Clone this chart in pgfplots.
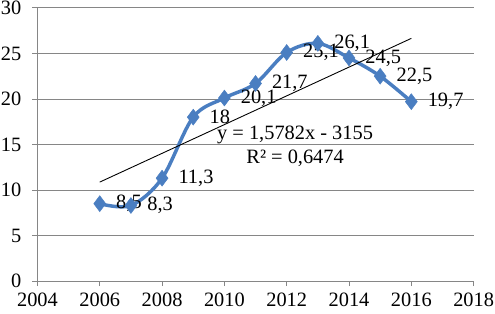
\documentclass[border=0pt]{standalone}
\usepackage{fontspec}
\setmainfont{Liberation Serif}
\usepackage{pgfplots}
\pgfplotsset{compat=1.18}
\definecolor{serblue}{RGB}{74,126,193}
\definecolor{gridgray}{RGB}{134,134,134}
\begin{document}
\begin{tikzpicture}
\begin{axis}[
  scale only axis,
  width=439pt, height=275pt,
  xmin=2004, xmax=2018, ymin=0, ymax=30,
  xtick={2004,2006,...,2018},
  ytick={0,5,...,30},
  axis x line*=bottom, axis y line*=left,
  axis line style={gridgray, line width=0.8pt, -},
  ymajorgrids,
  major grid style={gridgray, line width=0.8pt},
  tick style={gridgray, line width=0.8pt},
  tick align=outside,
  major tick length=5pt,
  /pgf/number format/assume math mode=true,
  /pgf/number format/1000 sep={},
  tick label style={font=\fontsize{20.5}{24}\selectfont, black, inner sep=1pt},
  xticklabel style={yshift=-6pt, text depth=6pt},
  yticklabel style={xshift=-10pt},
  clip=false,
]
\addplot[serblue, line width=3.5pt, smooth, tension=0.55,
  mark=diamond*, mark size=8pt, mark options={fill=serblue, draw=serblue, line width=0.5pt},
  nodes near coords, point meta=explicit symbolic,
  every node near coord/.append style={anchor=west, xshift=13pt, black, font=\fontsize{20.5}{24}\selectfont}]
coordinates {
(2006,8.5) [8,5]
(2007,8.3) [8,3]
(2008,11.3) [11,3]
(2009,18) [18]
(2010,20.1) [20,1]
(2011,21.7) [21,7]
(2012,25.1) [25,1]
(2013,26.1) [26,1]
(2014,24.5) [24,5]
(2015,22.5) [22,5]
(2016,19.7) [19,7]
};
\addplot[black, line width=0.9pt] coordinates {(2006,10.87) (2016,26.65)};
\node[align=center, font=\fontsize{20.5}{25}\selectfont, inner sep=0pt] at (axis cs:2012.27,14.8) {y = 1,5782x - 3155\\R² = 0,6474};
\end{axis}
\end{tikzpicture}
\end{document}
